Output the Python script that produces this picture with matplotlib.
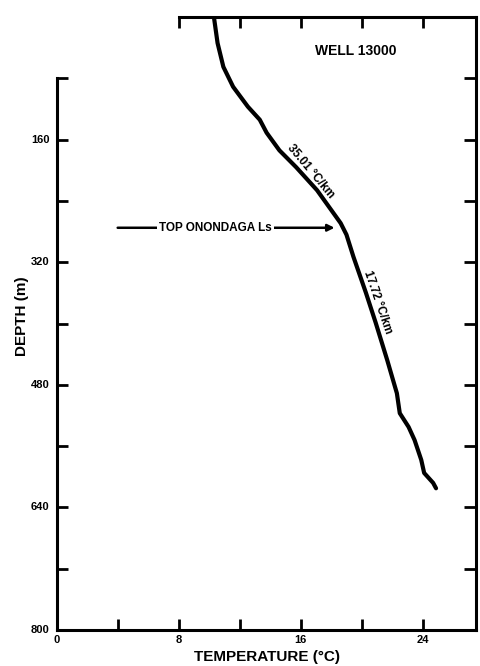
import matplotlib
matplotlib.use("Agg")
import matplotlib.pyplot as plt

# Data
depth_m = [0, 34, 65, 91, 117, 134, 151, 174, 196, 226, 269, 284, 313, 360, 399,
           448, 461, 491, 517, 535, 552, 578, 595, 608, 615]
temperature_c = [10.30, 10.54, 10.92, 11.56, 12.53, 13.31, 13.76, 14.60, 15.70, 17.07,
                 18.62, 19.00, 19.46, 20.28, 20.92, 21.68, 21.87, 22.31, 22.50, 23.08,
                 23.47, 23.91, 24.10, 24.69, 24.88]

x_ticks_major = [0, 8, 16, 24]
x_ticks_all = [4, 8, 12, 16, 20, 24]
top_ticks = [8, 12, 16, 20, 24]
y_ticks_all = [80, 160, 240, 320, 400, 480, 560, 640, 720, 800]
y_ticks_labels = [160, 320, 480, 640, 800]
right_ticks = [80, 160, 240, 320, 400, 480, 560, 640, 720]

top_formation_depth = 275
grad_upper = "35.01 °C/km"
grad_lower = "17.72 °C/km"

plt.rcParams['font.family'] = ['Liberation Sans', 'DejaVu Sans']
plt.rcParams['font.weight'] = 'bold'

fig = plt.figure(figsize=(4.81, 6.66), dpi=100)
ax = fig.add_axes([0.1185, 0.054, 0.871, 0.9204])
ax.set_xlim(0, 27.5)
ax.set_ylim(800, 0)

ax.plot(temperature_c, depth_m, color='black', lw=3.0,
        solid_capstyle='round', solid_joinstyle='round')

for s in ax.spines.values():
    s.set_linewidth(2.2)
ax.spines['top'].set_bounds(8, 27.5)
ax.spines['left'].set_bounds(80, 800)

ax.set_xticks(x_ticks_all)
ax.set_xticklabels([])
ax.set_yticks(y_ticks_all)
ax.set_yticklabels([])
ax.tick_params(axis='both', which='both', direction='in', length=8, width=2.0,
               top=False, right=False, labelsize=8)

axt = ax.secondary_xaxis('top')
axt.set_xticks(top_ticks)
axt.set_xticklabels([])
axt.tick_params(direction='in', length=8, width=2.0)
axt.spines['top'].set_visible(False)
axr = ax.secondary_yaxis('right')
axr.set_yticks(right_ticks)
axr.set_yticklabels([])
axr.tick_params(direction='in', length=9, width=2.0)
axr.spines['right'].set_visible(False)

for v in x_ticks_major:
    ax.text(v, 806, str(v), ha='center', va='top', fontsize=8, fontweight='bold')
for v in y_ticks_labels:
    ax.text(-0.5, v, str(v), ha='right', va='center', fontsize=8, fontweight='bold')

ax.text(-2.3, 391, 'DEPTH (m)', rotation=90, ha='center', va='center',
        fontsize=11, fontweight='bold')
ax.text(13.8, 840, 'TEMPERATURE (°C)', ha='center', va='baseline',
        fontsize=11, fontweight='bold')

ax.text(19.6, 44, 'WELL 13000', ha='center', va='center', fontsize=10, fontweight='bold')

ax.annotate('', xy=(18.4, top_formation_depth), xytext=(3.8, top_formation_depth),
            arrowprops=dict(arrowstyle='-|>', color='black', lw=1.8, mutation_scale=10))
ax.text(10.4, top_formation_depth, 'TOP ONONDAGA Ls', ha='center', va='center',
        fontsize=8.5, fontweight='bold',
        bbox=dict(facecolor='white', edgecolor='none', pad=1.5))

ax.text(16.62, 202, grad_upper, rotation=-50, ha='center', va='center', fontsize=8.5,
        fontweight='bold', rotation_mode='anchor')
ax.text(21.06, 372, grad_lower, rotation=-71, ha='center', va='center', fontsize=8.5,
        fontweight='bold', rotation_mode='anchor')

fig.savefig('out.png', dpi=100)
